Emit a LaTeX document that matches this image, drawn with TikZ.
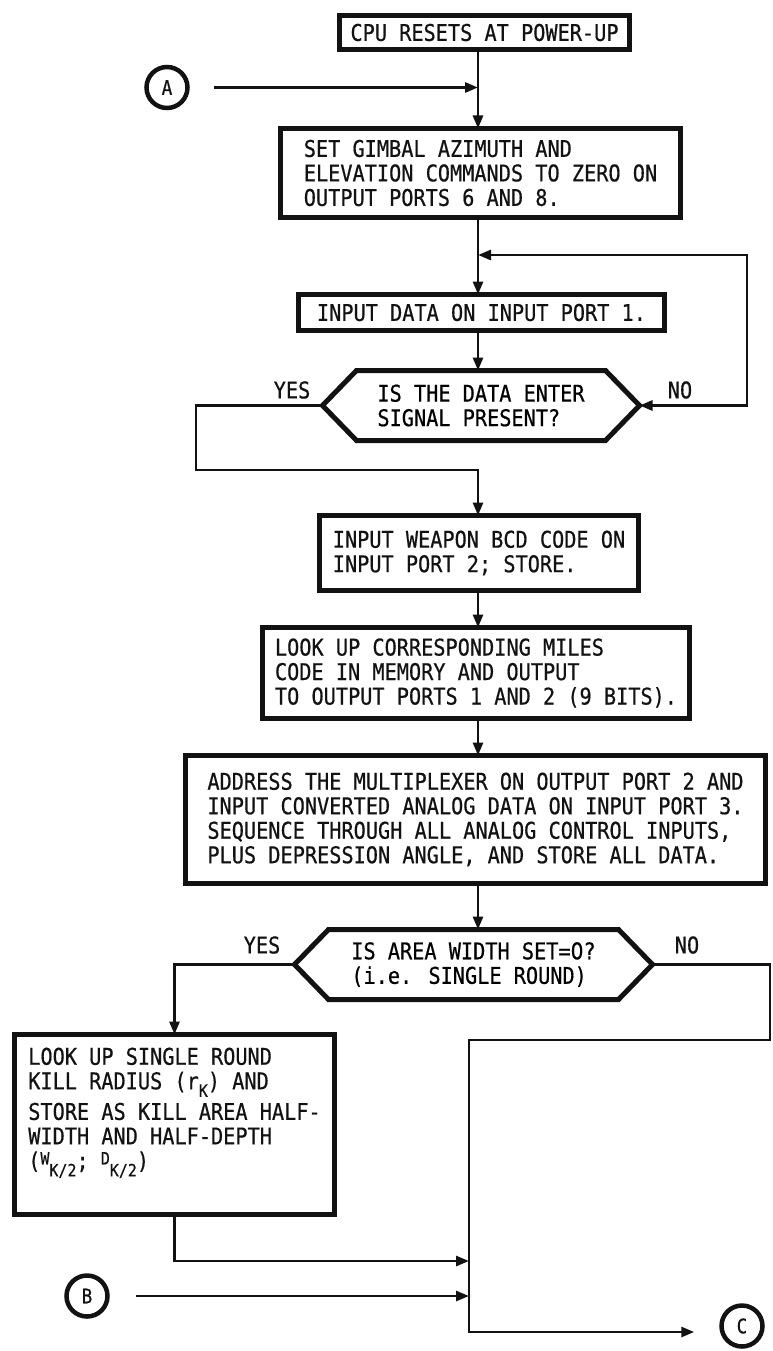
\documentclass[tikz,border=0pt]{standalone}
\usepackage{fontspec}
\usepackage{tikz}
\usetikzlibrary{arrows.meta}
\newfontfamily\flowfont[FakeStretch=0.88,FakeBold=0.6]{DejaVu Sans Mono}
\newfontfamily\plainzero[FakeStretch=0.88,FakeBold=0.6]{DejaVu Sans}
\definecolor{ink}{RGB}{18,18,18}
\newcommand{\lowidx}[1]{\raisebox{-0.6ex}{\fontsize{17}{17}\selectfont #1}}
\newcommand{\highidx}[1]{\raisebox{0.35ex}{\fontsize{17}{17}\selectfont #1}}
\newcommand{\decframe}[1]{%
  \draw[boxline] (#1.west) -- ([xshift=34pt]#1.north west) -- ([xshift=-34pt]#1.north east)
    -- (#1.east) -- ([xshift=-34pt]#1.south east) -- ([xshift=34pt]#1.south west) -- cycle;}
\tikzset{
  boxline/.style={ink,line width=5pt,line join=miter},
  procbox/.style={boxline,draw,rectangle,align=left,inner sep=0pt,outer sep=0pt,
    font=\flowfont\fontsize{23}{24.5}\selectfont},
  decbox/.style={rectangle,align=left,inner sep=0pt,outer sep=0pt,
    font=\flowfont\fontsize{23}{24.5}\selectfont},
  answer/.style={ink,font=\flowfont\fontsize{23}{24.5}\selectfont},
  connector/.style={draw,circle,ink,line width=4.5pt,minimum size=41pt,inner sep=0pt,
    font=\flowfont\fontsize{20}{20}\selectfont},
  flow/.style={ink,line width=2.8pt,-{Triangle[length=13pt,width=10pt]}},
  flowtwo/.style={ink,line width=2.8pt,{Triangle[length=13pt,width=10pt]}-{Triangle[length=13pt,width=10pt]}},
}

\begin{document}
\begin{tikzpicture}[x=1pt,y=-1pt]
 \useasboundingbox (0,0) rectangle (772,1351);
 \coordinate (spine) at (478,0);
 % boxes, top to bottom
 \node[procbox,minimum width=290pt,minimum height=34pt] (cpu) at (484.5,32.5) {CPU RESETS AT POWER-UP};
 \node[connector] (conA) at (167,87.5) {A};
 \node[procbox,minimum width=400pt,minimum height=89pt] (gimbal) at (480.5,173)
   {SET GIMBAL AZIMUTH AND\\ELEVATION COMMANDS TO ZERO ON\\OUTPUT PORTS 6 AND 8.};
 \node[procbox,minimum width=366pt,minimum height=36pt] (indata) at (481.5,312.5) {INPUT DATA ON INPUT PORT 1.};
 \node[decbox,minimum width=317pt,minimum height=70pt] (enter) at (481,405.5) {IS THE DATA ENTER\\SIGNAL PRESENT?};
 \decframe{enter}
 \node[answer] (yesA) at (292,390) {YES};
 \node[answer] (noA) at (680,390) {NO};
 \node[procbox,minimum width=319pt,minimum height=75pt] (weapon) at (479,553)
   {INPUT WEAPON BCD CODE ON\\INPUT PORT 2; STORE.};
 \node[procbox,minimum width=427pt,minimum height=91pt] (miles) at (476,673)
   {LOOK UP CORRESPONDING MILES\\CODE IN MEMORY AND OUTPUT\\TO OUTPUT PORTS 1 AND 2 (9 BITS).};
 \node[procbox,minimum width=580pt,minimum height=128pt] (mux) at (475.5,819.5)
   {ADDRESS THE MULTIPLEXER ON OUTPUT PORT 2 AND\\INPUT CONVERTED ANALOG DATA ON INPUT PORT 3.\\
    SEQUENCE THROUGH ALL ANALOG CONTROL INPUTS,\\PLUS DEPRESSION ANGLE, AND STORE ALL DATA.};
 \node[decbox,minimum width=358pt,minimum height=70pt] (width) at (473.5,964.5)
   {IS AREA WIDTH SET={\plainzero 0}?\\(i.e. SINGLE ROUND)};
 \decframe{width}
 \node[answer] (yesB) at (262,945) {YES};
 \node[answer] (noB) at (687,945) {NO};
 \node[procbox,minimum width=320pt,minimum height=180pt] (kill) at (174.5,1124.5)
   {LOOK UP SINGLE ROUND\\KILL RADIUS (r\lowidx{K}) AND\\[5pt]STORE AS KILL AREA HALF-\\
    WIDTH AND HALF-DEPTH\\(\highidx{W}\lowidx{K/2}; \highidx{D}\lowidx{K/2})\\[8pt]};
 \node[connector] (conB) at (87,1296) {B};
 \node[connector] (conC) at (742,1326) {C};
 % connectors
 \draw[flow] (cpu.south -| spine) -- (gimbal.north -| spine);
 \draw[flow,shorten <=24pt] (conA) -- (conA -| spine);
 \draw[flow] (gimbal.south -| spine) -- (indata.north -| spine);
 \draw[flow] (indata.south -| spine) -- (enter.north -| spine);
 \coordinate (loop) at (747,255);
 \draw[flowtwo] (enter.east) -| (loop) -- (loop -| spine);
 \coordinate (yesturn) at (196,470);
 \draw[flow] (enter.west) -| (yesturn) -| (weapon.north -| spine);
 \draw[flow] (weapon.south -| spine) -- (miles.north -| spine);
 \draw[flow] (miles.south -| spine) -- (mux.north -| spine);
 \draw[flow] (mux.south -| spine) -- (width.north -| spine);
 \draw[flow] (width.west) -| (kill.north);
 \coordinate (noturn) at (770,1040);
 \coordinate (merge) at (469,1040);
 \coordinate (mergeend) at (469,1332);
 \draw[flow,shorten >=25pt] (width.east) -| (noturn) -- (merge) -- (mergeend) -- (mergeend -| conC.west);
 \coordinate (inkill) at (469,1261);
 \draw[flow] (kill.south) |- (inkill);
 \coordinate (inb) at (469,1296);
 \draw[flow,shorten <=26pt] (conB) -- (inb);
\end{tikzpicture}
\end{document}
